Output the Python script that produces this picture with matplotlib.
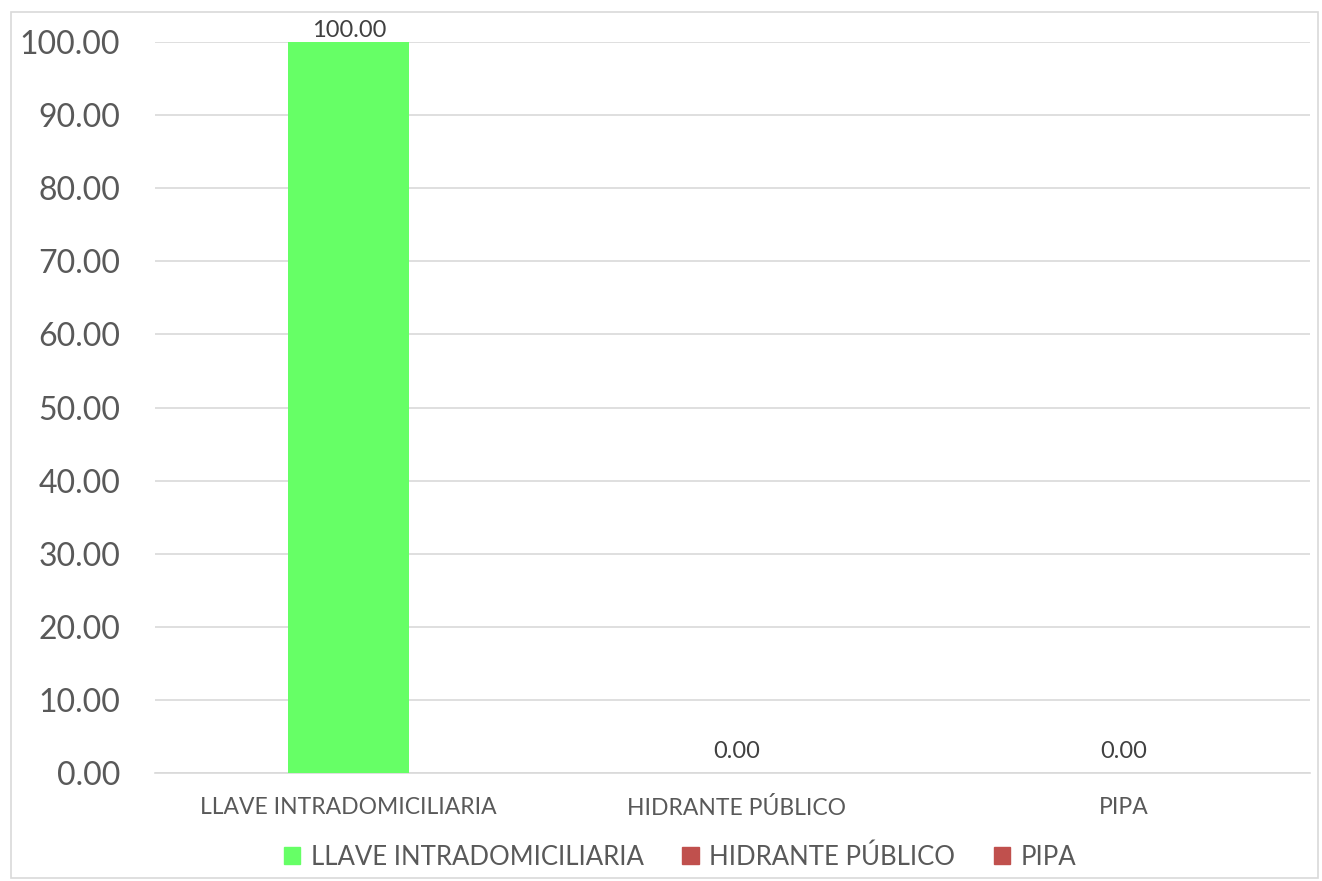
import matplotlib
matplotlib.use("Agg")
import matplotlib.pyplot as plt
from matplotlib.patches import Rectangle

categories = ["LLAVE INTRADOMICILIARIA", "HIDRANTE PÚBLICO", "PIPA"]
values = [100.0, 0.0, 0.0]
colors = ["#66FF66", "#C0504D", "#C0504D"]
yticks = [0, 10, 20, 30, 40, 50, 60, 70, 80, 90, 100]

plt.rcParams['font.family'] = ['Lato', 'DejaVu Sans']
txt = "#595959"

fig = plt.figure(figsize=(13.22, 8.81), dpi=100)
ax = fig.add_axes([155/1322, 1-773/881, (1310-155)/1322, (773-42)/881])

x = list(range(len(categories)))
bars = ax.bar(x, values, width=0.312, color=colors, zorder=3)
for xi, v in zip(x, values):
    ax.annotate(f"{v:.2f}", (xi, v), xytext=(0, 8 if v == 0 else 1), textcoords="offset points",
                ha="center", va="bottom", fontsize=17, color="#404040", zorder=4)

ax.set_xlim(-0.5, 2.48)
ax.set_ylim(0, 100)
ax.set_yticks(yticks)
ax.set_yticklabels([f"{t:.2f}" for t in yticks], fontsize=23, color=txt)
ax.set_xticks(x)
ax.set_xticklabels(categories, fontsize=16.5, color=txt)
ax.tick_params(axis="both", length=0)
ax.tick_params(axis="y", pad=25)
ax.tick_params(axis="x", pad=17)
ax.grid(axis="y", color="#D9D9D9", linewidth=1.2, zorder=0)
for s in ["top", "right", "left"]:
    ax.spines[s].set_visible(False)
ax.spines["bottom"].set_color("#D9D9D9")
ax.spines["bottom"].set_linewidth(1.2)

handles = [Rectangle((0, 0), 1, 1, color=c) for c in colors]
leg = fig.legend(handles, categories, loc="center", bbox_to_anchor=(680/1322, 1-857/881),
                 ncol=3, frameon=False, fontsize=18.5, handlelength=0.65, handleheight=0.65,
                 handletextpad=0.4, columnspacing=1.5)
for t in leg.get_texts():
    t.set_color(txt)

fig.patches.append(Rectangle((11/1322, 1-878/881), (1318-11)/1322, (878-12)/881,
                             transform=fig.transFigure, fill=False, edgecolor="#D9D9D9",
                             linewidth=1.2))

fig.savefig("out.png", dpi=100)
